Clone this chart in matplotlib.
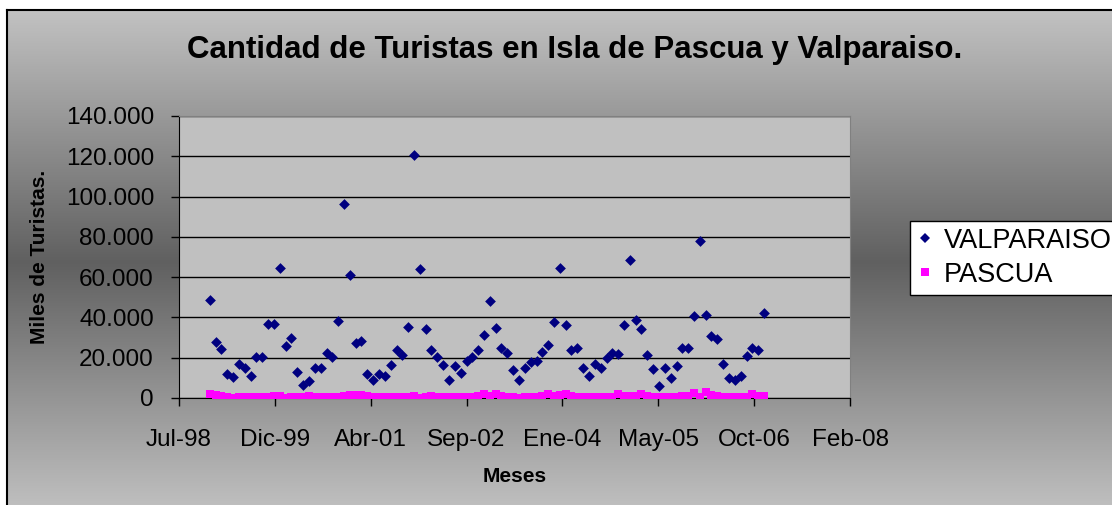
import numpy as np
import pandas as pd
import matplotlib
matplotlib.use("Agg")
import matplotlib.pyplot as plt
import matplotlib.dates as mdates
from matplotlib.ticker import FuncFormatter, MultipleLocator, FixedLocator
from matplotlib.lines import Line2D

plt.rcParams['font.family'] = ['Liberation Sans', 'DejaVu Sans']

# monthly data, Jan 1999 .. Dec 2006
months = pd.date_range('1999-01-01', periods=96, freq='MS')

valparaiso = [
    48650, 27650, 24300, 11750, 10400, 16900, 15050, 11100, 20350, 20350, 36900, 36900,
    64550, 25650, 29600, 13070, 6450, 8440, 15050, 15050, 22340, 20350, 38080, 96150,
    61230, 27470, 28300, 11750, 9100, 11750, 11100, 16400, 23680, 21500, 35400, 120640,
    63880, 34100, 23680, 20350, 16400, 9100, 15720, 12400, 18370, 20350, 23680, 31430,
    48000, 34750, 24970, 22170, 13740, 8940, 15050, 17700, 18370, 23000, 26300, 37570,
    64540, 36080, 23680, 24970, 15050, 11100, 17030, 15050, 19700, 22340, 21680, 36080,
    68360, 38720, 34100, 21500, 14250, 5800, 14890, 9770, 15720, 24820, 24820, 40710,
    77790, 41370, 30780, 29450, 16880, 9770, 8940, 11100, 20850, 24970, 23680, 42040,
]

pascua = [
    1800, 1300, 900, 500, 200, 400, 700, 600, 500, 600, 700, 800,
    900, 200, 700, 500, 600, 1200, 700, 600, 500, 600, 700, 1000,
    1500, 1600, 1300, 800, 500, 400, 600, 600, 500, 600, 700, 900,
    100, 700, 800, 600, 500, 300, 600, 700, 600, 500, 800, 2200,
    1200, 2000, 800, 700, 500, 200, 600, 700, 600, 800, 1900, 900,
    1400, 2100, 900, 700, 500, 600, 700, 600, 500, 700, 2000, 900,
    900, 1000, 2200, 900, 600, 500, 600, 700, 600, 800, 900, 2300,
    300, 3200, 1500, 900, 700, 500, 600, 700, 700, 1800, 900, 800,
]

meses_es = ['Ene', 'Feb', 'Mar', 'Abr', 'May', 'Jun',
            'Jul', 'Ago', 'Sep', 'Oct', 'Nov', 'Dic']

W, H = 1112, 505
fig = plt.figure(figsize=(W / 100, H / 100), dpi=100, facecolor='white')

# chart area with vertical grey gradient (light - dark - light)
bg = fig.add_axes([7 / W, -0.02, 1.0, 1 - 10 / H + 0.02], zorder=0)
t = np.linspace(0, 1, 256)
shade = 0x60 / 255 + (0xc2 - 0x60) / 255 * np.abs(2 * t - 1)
bg.imshow(np.dstack([shade, shade, shade]).reshape(256, 1, 3),
          aspect='auto', extent=[0, 1, 0, 1], origin='lower')
bg.set_xticks([]); bg.set_yticks([])
for s in bg.spines.values():
    s.set_color('black'); s.set_linewidth(1.5)

ax = fig.add_axes([179 / W, 1 - 398 / H, (850 - 179) / W, (398 - 116) / H], zorder=2)
ax.set_facecolor('#c0c0c0')

ax.scatter(months, valparaiso, marker='D', s=30, color='#000080', zorder=3,
           linewidths=0)
ax.scatter(months, pascua, marker='s', s=28, color='#ff00ff', zorder=3,
           linewidths=0)

# Excel-style date axis: serial 36000 .. 39500, major unit 500 days
x0 = mdates.date2num(pd.Timestamp('1998-07-24'))
ax.set_xlim(x0, x0 + 3500)
ax.xaxis.set_major_locator(FixedLocator([x0 + 500 * k for k in range(8)]))
ax.xaxis.set_major_formatter(FuncFormatter(
    lambda v, p: f"{meses_es[mdates.num2date(v).month - 1]}-{mdates.num2date(v).year % 100:02d}"))

ax.set_ylim(0, 140000)
ax.yaxis.set_major_locator(MultipleLocator(20000))
ax.yaxis.set_major_formatter(FuncFormatter(lambda v, p: f"{v:,.0f}".replace(',', '.')))
ax.grid(axis='y', color='black', linewidth=1)
ax.set_axisbelow(True)

ax.tick_params(axis='both', direction='out', length=6, width=1, colors='black',
               labelsize=17.5)
ax.tick_params(axis='x', pad=16)
ax.tick_params(axis='y', pad=12)
ax.spines['left'].set_color('black')
ax.spines['bottom'].set_color('black')
ax.spines['top'].set_color('#808080')
ax.spines['right'].set_color('#808080')

fig.text(575 / W, 1 - 50 / H, 'Cantidad de Turistas en Isla de Pascua y Valparaiso.',
         ha='center', va='center', fontsize=22.5, fontweight='bold')
fig.text(515 / W, 1 - 477 / H, 'Meses', ha='center', va='center',
         fontsize=15, fontweight='bold')
fig.text(40 / W, 1 - 257 / H, 'Miles de Turistas.', ha='center', va='center',
         rotation=90, fontsize=15, fontweight='bold')

handles = [
    Line2D([], [], marker='D', linestyle='none', color='#000080', markersize=5,
           markeredgewidth=0, label='VALPARAISO'),
    Line2D([], [], marker='s', linestyle='none', color='#ff00ff', markersize=6,
           markeredgewidth=0, label='PASCUA'),
]
leg = fig.legend(handles=handles, loc='upper left',
                 bbox_to_anchor=(910 / W, 1 - 221 / H), fontsize=19.5,
                 frameon=True, fancybox=False, framealpha=1, facecolor='white',
                 edgecolor='black', handlelength=0.6, handletextpad=0.4,
                 labelspacing=0.3, borderpad=0.25, borderaxespad=0)
leg.get_frame().set_linewidth(1)
leg.set_zorder(5)

fig.savefig('out.png', dpi=100, facecolor='white')
